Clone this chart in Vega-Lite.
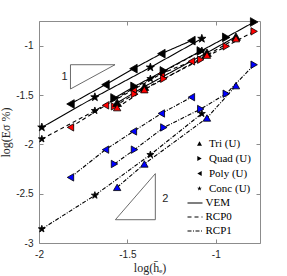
{
  "$schema": "https://vega.github.io/schema/vega-lite/v6.json",
  "width": 221,
  "height": 222,
  "autosize": "none",
  "padding": {"left": 39, "top": 21, "right": 27, "bottom": 33},
  "background": "white",
  "config": {
    "view": {"stroke": "#8c8c8c", "strokeWidth": 1},
    "legend": {"padding": 0, "title": null}
  },
  "datasets": {
    "pts": [
      {"mesh": "Conc (U)", "method": "VEM", "h": -1.984, "E": -1.828},
      {"mesh": "Conc (U)", "method": "VEM", "h": -1.684, "E": -1.522},
      {"mesh": "Conc (U)", "method": "VEM", "h": -1.370, "E": -1.220},
      {"mesh": "Conc (U)", "method": "VEM", "h": -1.079, "E": -0.929},
      {"mesh": "Conc (U)", "method": "RCP0", "h": -1.984, "E": -1.946},
      {"mesh": "Conc (U)", "method": "RCP0", "h": -1.684, "E": -1.659},
      {"mesh": "Conc (U)", "method": "RCP0", "h": -1.370, "E": -1.335},
      {"mesh": "Conc (U)", "method": "RCP0", "h": -1.079, "E": -1.051},
      {"mesh": "Conc (U)", "method": "RCP1", "h": -1.984, "E": -2.858},
      {"mesh": "Conc (U)", "method": "RCP1", "h": -1.684, "E": -2.517},
      {"mesh": "Conc (U)", "method": "RCP1", "h": -1.370, "E": -2.105},
      {"mesh": "Conc (U)", "method": "RCP1", "h": -1.079, "E": -1.689},
      {"mesh": "Poly (U)", "method": "VEM", "h": -1.822, "E": -1.591},
      {"mesh": "Poly (U)", "method": "VEM", "h": -1.624, "E": -1.395},
      {"mesh": "Poly (U)", "method": "VEM", "h": -1.466, "E": -1.233},
      {"mesh": "Poly (U)", "method": "VEM", "h": -1.308, "E": -1.081},
      {"mesh": "Poly (U)", "method": "VEM", "h": -1.138, "E": -0.949},
      {"mesh": "Poly (U)", "method": "RCP0", "h": -1.822, "E": -1.828},
      {"mesh": "Poly (U)", "method": "RCP0", "h": -1.624, "E": -1.605},
      {"mesh": "Poly (U)", "method": "RCP0", "h": -1.466, "E": -1.446},
      {"mesh": "Poly (U)", "method": "RCP0", "h": -1.308, "E": -1.284},
      {"mesh": "Poly (U)", "method": "RCP0", "h": -1.138, "E": -1.159},
      {"mesh": "Poly (U)", "method": "RCP1", "h": -1.822, "E": -2.335},
      {"mesh": "Poly (U)", "method": "RCP1", "h": -1.624, "E": -2.054},
      {"mesh": "Poly (U)", "method": "RCP1", "h": -1.466, "E": -1.869},
      {"mesh": "Poly (U)", "method": "RCP1", "h": -1.308, "E": -1.687},
      {"mesh": "Poly (U)", "method": "RCP1", "h": -1.138, "E": -1.522},
      {"mesh": "Quad (U)", "method": "VEM", "h": -1.573, "E": -1.530},
      {"mesh": "Quad (U)", "method": "VEM", "h": -1.460, "E": -1.413},
      {"mesh": "Quad (U)", "method": "VEM", "h": -1.294, "E": -1.256},
      {"mesh": "Quad (U)", "method": "VEM", "h": -1.085, "E": -1.054},
      {"mesh": "Quad (U)", "method": "VEM", "h": -0.941, "E": -0.916},
      {"mesh": "Quad (U)", "method": "VEM", "h": -0.783, "E": -0.760},
      {"mesh": "Quad (U)", "method": "RCP0", "h": -1.573, "E": -1.615},
      {"mesh": "Quad (U)", "method": "RCP0", "h": -1.460, "E": -1.490},
      {"mesh": "Quad (U)", "method": "RCP0", "h": -1.294, "E": -1.335},
      {"mesh": "Quad (U)", "method": "RCP0", "h": -1.085, "E": -1.142},
      {"mesh": "Quad (U)", "method": "RCP0", "h": -0.941, "E": -1.007},
      {"mesh": "Quad (U)", "method": "RCP0", "h": -0.783, "E": -0.855},
      {"mesh": "Quad (U)", "method": "RCP1", "h": -1.573, "E": -2.199},
      {"mesh": "Quad (U)", "method": "RCP1", "h": -1.460, "E": -2.054},
      {"mesh": "Quad (U)", "method": "RCP1", "h": -1.294, "E": -1.829},
      {"mesh": "Quad (U)", "method": "RCP1", "h": -1.085, "E": -1.642},
      {"mesh": "Quad (U)", "method": "RCP1", "h": -0.941, "E": -1.487},
      {"mesh": "Quad (U)", "method": "RCP1", "h": -0.783, "E": -1.193},
      {"mesh": "Tri (U)", "method": "VEM", "h": -1.558, "E": -1.578},
      {"mesh": "Tri (U)", "method": "VEM", "h": -1.404, "E": -1.416},
      {"mesh": "Tri (U)", "method": "VEM", "h": -1.050, "E": -1.071},
      {"mesh": "Tri (U)", "method": "VEM", "h": -0.886, "E": -0.909},
      {"mesh": "Tri (U)", "method": "RCP0", "h": -1.558, "E": -1.628},
      {"mesh": "Tri (U)", "method": "RCP0", "h": -1.404, "E": -1.446},
      {"mesh": "Tri (U)", "method": "RCP0", "h": -1.050, "E": -1.096},
      {"mesh": "Tri (U)", "method": "RCP0", "h": -0.886, "E": -0.929},
      {"mesh": "Tri (U)", "method": "RCP1", "h": -1.558, "E": -2.436},
      {"mesh": "Tri (U)", "method": "RCP1", "h": -1.404, "E": -2.199},
      {"mesh": "Tri (U)", "method": "RCP1", "h": -1.050, "E": -1.733},
      {"mesh": "Tri (U)", "method": "RCP1", "h": -0.886, "E": -1.405}
    ],
    "slopes": [
      {"tri": "a", "i": 0, "h": -1.822, "E": -1.439},
      {"tri": "a", "i": 1, "h": -1.822, "E": -1.193},
      {"tri": "a", "i": 2, "h": -1.570, "E": -1.193},
      {"tri": "a", "i": 3, "h": -1.822, "E": -1.439},
      {"tri": "b", "i": 0, "h": -1.568, "E": -2.764},
      {"tri": "b", "i": 1, "h": -1.342, "E": -2.764},
      {"tri": "b", "i": 2, "h": -1.342, "E": -2.297},
      {"tri": "b", "i": 3, "h": -1.568, "E": -2.764}
    ],
    "slopeLabels": [
      {"t": "1", "h": -1.856, "E": -1.321},
      {"t": "2", "h": -1.285, "E": -2.551}
    ]
  },
  "resolve": {"axis": {"x": "independent", "y": "independent"}},
  "layer": [
    {
      "data": {"name": "slopes"},
      "mark": {"type": "line", "color": "#5a5a5a", "strokeWidth": 0.9},
      "encoding": {
        "x": {"field": "h", "type": "quantitative", "scale": {"domain": [-2, -0.75], "nice": false, "zero": false}, "axis": null},
        "y": {"field": "E", "type": "quantitative", "scale": {"domain": [-3, -0.75], "nice": false, "zero": false}, "axis": null},
        "detail": {"field": "tri"},
        "order": {"field": "i"}
      }
    },
    {
      "data": {"name": "slopeLabels"},
      "mark": {"type": "text", "font": "Liberation Sans", "fontSize": 11, "color": "#262626"},
      "encoding": {
        "x": {"field": "h", "type": "quantitative", "axis": null},
        "y": {"field": "E", "type": "quantitative", "axis": null},
        "text": {"field": "t"}
      }
    },
    {
      "data": {"name": "pts"},
      "mark": {"type": "line", "color": "black", "strokeWidth": 1.1},
      "encoding": {
        "x": {"field": "h", "type": "quantitative",
          "axis": {"orient": "bottom", "values": [-2, -1.5, -1], "labelExpr": "'' + datum.value", "tickSize": -4, "labelPadding": 10, "domain": false, "grid": false, "tickColor": "#8c8c8c", "labelFlush": false, "labelOverlap": false, "labelFont": "Liberation Sans", "labelFontSize": 10, "labelColor": "#262626", "title": "log(h̄ₑ)", "titleFont": "Liberation Serif", "titleFontSize": 12, "titleFontWeight": "normal", "titleColor": "#262626", "titlePadding": 3}},
        "y": {"field": "E", "type": "quantitative",
          "axis": {"orient": "left", "values": [-3, -2.5, -2, -1.5, -1], "labelExpr": "'' + datum.value", "tickSize": -4, "labelPadding": 10, "domain": false, "grid": false, "tickColor": "#8c8c8c", "labelFlush": false, "labelOverlap": false, "labelFont": "Liberation Sans", "labelFontSize": 10, "labelColor": "#262626", "title": "log(Eσ %)", "titleFont": "Liberation Serif", "titleFontSize": 12, "titleFontWeight": "normal", "titleColor": "#262626", "titlePadding": 3}},
        "detail": {"field": "mesh"},
        "strokeDash": {"field": "method", "type": "nominal",
          "scale": {"domain": ["VEM", "RCP0", "RCP1"], "range": [[1, 0], [4, 3], [4, 1.5, 1, 1.5]]},
          "legend": {"orient": "none", "legendX": 147.5, "legendY": 173.5, "symbolType": "stroke", "symbolSize": 225, "symbolStrokeColor": "black", "symbolStrokeWidth": 1.2, "labelOffset": 2, "rowPadding": 0, "labelFont": "Liberation Serif", "labelFontSize": 11, "labelColor": "black"}}
      }
    },
    {
      "data": {"name": "pts"},
      "mark": {"type": "point", "filled": true, "stroke": "black", "strokeWidth": 0.8, "opacity": 1},
      "encoding": {
        "x": {"field": "h", "type": "quantitative",
          "axis": {"orient": "top", "values": [-2, -1.5, -1], "labels": false, "title": null, "tickSize": -4, "domain": false, "grid": false, "tickColor": "#8c8c8c"}},
        "y": {"field": "E", "type": "quantitative",
          "axis": {"orient": "right", "values": [-3, -2.5, -2, -1.5, -1], "labels": false, "title": null, "tickSize": -4, "domain": false, "grid": false, "tickColor": "#8c8c8c"}},
        "shape": {"field": "mesh", "type": "nominal",
          "scale": {"domain": ["Tri (U)", "Quad (U)", "Poly (U)", "Conc (U)"], "range": ["triangle-up", "triangle-right", "triangle-left", "M0,-1L0.235,-0.324L0.951,-0.309L0.380,0.124L0.588,0.809L0,0.4L-0.588,0.809L-0.380,0.124L-0.951,-0.309L-0.235,-0.324Z"]},
          "legend": {"orient": "none", "legendX": 155, "legendY": 117, "symbolSize": 25, "symbolFillColor": "black", "symbolStrokeColor": "black", "symbolStrokeWidth": 0.5, "labelOffset": 4, "rowPadding": 3, "labelFont": "Liberation Serif", "labelFontSize": 11, "labelColor": "black"}},
        "fill": {
          "condition": {"test": "datum.mesh === 'Conc (U)'", "value": "black"},
          "field": "method", "type": "nominal",
          "scale": {"domain": ["VEM", "RCP0", "RCP1"], "range": ["black", "red", "blue"]},
          "legend": null},
        "size": {"condition": {"test": "datum.method === 'VEM'", "value": 75}, "value": 55}
      }
    }
  ]
}
